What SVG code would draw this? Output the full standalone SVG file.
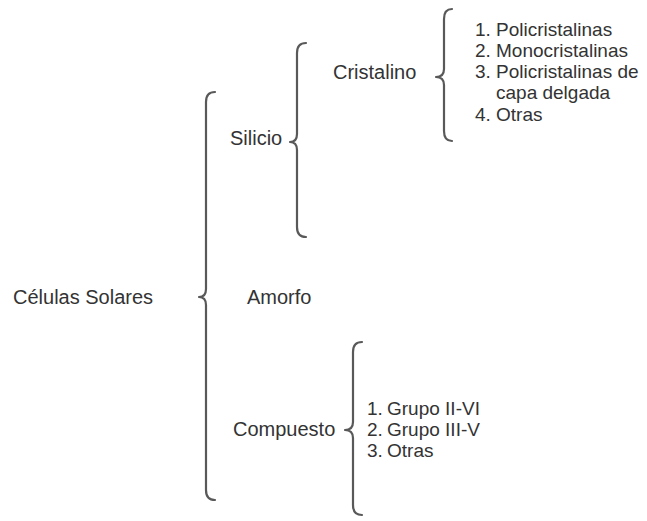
<svg xmlns="http://www.w3.org/2000/svg" width="647" height="521" viewBox="0 0 647 521">
<style>
text{font-family:"Liberation Sans",Arial,sans-serif;font-size:19px;fill:#333333}
.lbl{font-size:20px}
.br{fill:none;stroke:#595959;stroke-width:2.2;stroke-linecap:round;stroke-linejoin:round}
</style>
<rect width="647" height="521" fill="#ffffff"/>
<g id="connectors">
<path class="br" d="M215,92 Q206,92 206,102 L206,289 Q206,297 199,297 Q206,297 206,305 L206,490 Q206,500 215,500"/>
<path class="br" d="M306,43 Q297,43 297,53 L297,134 Q297,142 290,142 Q297,142 297,150 L297,227 Q297,237 306,237"/>
<path class="br" d="M452,9 Q444,9 444,19 L444,69 Q444,77 436,77 Q444,77 444,85 L444,131 Q444,141 452,141"/>
<path class="br" d="M362,342 Q353,342 353,352 L353,422 Q353,430 345,430 Q353,430 353,438 L353,505 Q353,515 362,515"/>
</g>
<g id="celulas"><text class="lbl" x="13" y="304">Células Solares</text></g>
<g id="silicio"><text class="lbl" x="230" y="145">Silicio</text></g>
<g id="amorfo"><text class="lbl" x="247" y="304">Amorfo</text></g>
<g id="compuesto"><text class="lbl" x="233" y="436">Compuesto</text></g>
<g id="cristalino"><text class="lbl" x="333" y="79">Cristalino</text></g>
<g id="cristalino-list">
<text x="475" y="36">1.</text><text x="496" y="36">Policristalinas</text>
<text x="475" y="57">2.</text><text x="496" y="57">Monocristalinas</text>
<text x="475" y="78">3.</text><text x="496" y="78">Policristalinas de</text>
<text x="496" y="99">capa delgada</text>
<text x="475" y="121">4.</text><text x="496" y="121">Otras</text>
</g>
<g id="compuesto-list">
<text x="367" y="415">1.</text><text x="387" y="415">Grupo II-VI</text>
<text x="367" y="436">2.</text><text x="387" y="436">Grupo III-V</text>
<text x="367" y="457">3.</text><text x="387" y="457">Otras</text>
</g>
</svg>
